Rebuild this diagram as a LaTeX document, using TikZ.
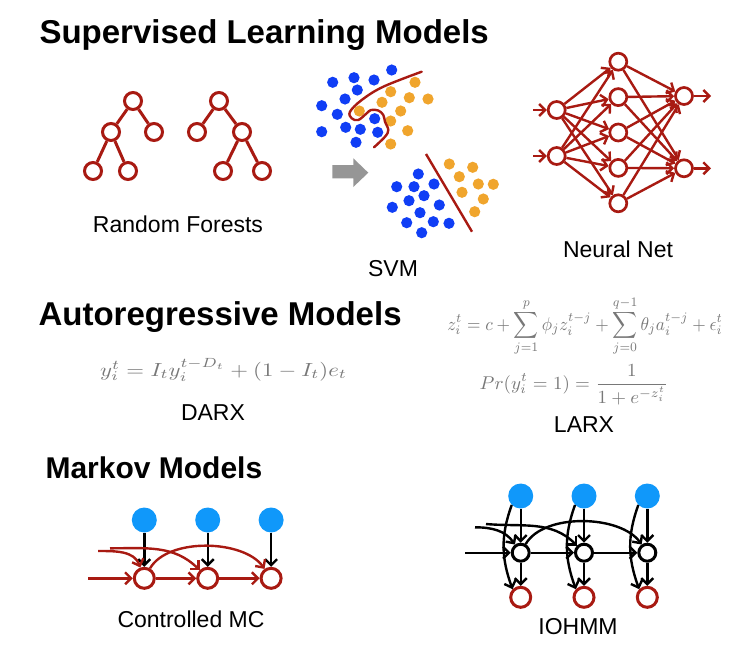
\documentclass[tikz,border=0pt]{standalone}
\usepackage{fontspec}
\setmainfont{Liberation Sans}
\usepackage{graphicx}
\usetikzlibrary{arrows.meta,positioning}

\definecolor{modelred}{RGB}{168,26,18}
\definecolor{dotblue}{RGB}{16,62,245}
\definecolor{dotorange}{RGB}{240,165,45}
\definecolor{inputblue}{RGB}{16,152,250}
\definecolor{eqgray}{RGB}{120,120,120}
\definecolor{arrowgray}{RGB}{150,150,150}

\tikzset{
  treenode/.style={draw=modelred,circle,line width=3pt,minimum size=17pt,inner sep=0pt},
  netnode/.style={draw=modelred,circle,line width=2.7pt,minimum size=17pt,inner sep=0pt},
  inputnode/.style={fill=inputblue,circle,minimum size=25pt,inner sep=0pt},
  statenode/.style={draw=modelred,circle,line width=3pt,minimum size=20pt,inner sep=0pt},
  hiddennode/.style={draw=black,circle,line width=3pt,minimum size=17pt,inner sep=0pt},
  title/.style={anchor=base west,font=\fontsize{33}{40}\selectfont\bfseries},
  caption/.style={anchor=base,font=\fontsize{23}{28}\selectfont},
  equation/.style={anchor=base,text=eqgray,inner sep=0pt},
  treeedge/.style={draw=modelred,line width=3pt},
  redline/.style={draw=modelred,line width=2.4pt},
  blackline/.style={draw=black,line width=2.4pt},
}

\begin{document}
\begin{tikzpicture}[x=1pt,y=-1pt,on grid,>={Straight Barb[length=6pt,width=12pt]}]
\useasboundingbox (0,0) rectangle (746,654);

\node[title] (suptitle) at (36,43) {Supervised Learning Models};
\node[title] (artitle) at (35,325) {Autoregressive Models};
\node[title,font=\fontsize{30}{36}\selectfont\bfseries] (mktitle) at (42,478) {Markov Models};

\node[treenode] (tree1) at (133,101) {};
\node[treenode] (tree1l) at (111,132) {};
\node[treenode] (tree1r) at (154,132) {};
\node[treenode] (tree1ll) at (93,171) {};
\node[treenode] (tree1lr) at (128,171) {};
\node[treenode] (tree2) at (219,101) {};
\node[treenode] (tree2l) at (197,132) {};
\node[treenode] (tree2r) at (242,132) {};
\node[treenode] (tree2rl) at (223,171) {};
\node[treenode] (tree2rr) at (262,171) {};
\draw[treeedge] (tree1) -- (tree1l);
\draw[treeedge] (tree1) -- (tree1r);
\draw[treeedge] (tree1l) -- (tree1ll);
\draw[treeedge] (tree1l) -- (tree1lr);
\draw[treeedge] (tree2) -- (tree2l);
\draw[treeedge] (tree2) -- (tree2r);
\draw[treeedge] (tree2r) -- (tree2rl);
\draw[treeedge] (tree2r) -- (tree2rr);
\node[caption] (rflabel) at (178,232) {Random Forests};

\foreach \x/\y in {391.7/70,332.7/82.3,354/77.7,374/80,357.3/90,345/99,321.7/105.7,337.3/114.3,374.7/118.7,345.7/127.3,360.3/129.3,377.7/132.3,321.7/131.7,356/142.3,
  418.3/174,396.7/186.7,414/186.7,434/184,424/195.7,409/200.7,439.3/205,392.3/207.3,420/212.7,406.7/222.7,433.3/221.7,449/223.3,421.7/232.7}
  \fill[dotblue] (\x,\y) circle[radius=5.6];
\foreach \x/\y in {415/82.3,390.7/91.7,409.3/97.7,428/99,382/102.3,359.3/111,400.7/111,390.7/121,407.7/130.7,390.7/144,
  449.3/164,472.7/167.3,459.3/176.7,478.3/184,493.3/184.3,462/192.3,483.3/199,474.7/211.7}
  \fill[dotorange] (\x,\y) circle[radius=5.6];
\draw[redline,line cap=round] plot[smooth,tension=0.6] coordinates {(421.7,71.7) (383.3,86.7) (361.7,100) (350,111.7) (351.7,118.3) (358.3,120) (366.7,113.3) (371,110) (378.3,110.5) (383.3,115) (385,121.7) (388.3,130) (385,136.7) (374,147.3)};
\draw[redline] (426,154) -- (472,231.7);
\fill[arrowgray] (332.3,165) -- (353.3,165) -- (353.3,158.3) -- (368.3,172.7) -- (353.3,187) -- (353.3,178.3) -- (332.3,178.3) -- cycle;
\node[caption] (svmlabel) at (393,276) {SVM};

\node[netnode] (in1) at (556.7,110) {};
\node[netnode] (in2) at (556.7,156) {};
\foreach \h/\y in {1/61.7,2/97.1,3/132.5,4/167.9,5/203.3}
  \node[netnode] (hid\h) at (618.3,\y) {};
\node[netnode] (out1) at (684,96) {};
\node[netnode] (out2) at (684,168.3) {};
\coordinate (netin1) at (533,110);
\coordinate (netin2) at (533,156);
\coordinate (netout1) at (711,96);
\coordinate (netout2) at (711,168.3);
\foreach \i in {1,2} {
  \draw[redline,->] (netin\i) -- (in\i);
  \draw[redline,->] (out\i) -- (netout\i);
  \foreach \h in {1,...,5} {
    \draw[redline,->] (in\i) -- (hid\h);
    \draw[redline,->] (hid\h) -- (out\i);
  }
}
\node[caption] (nnlabel) at (618,257) {Neural Net};

\node[equation] (darxeq) at (223.5,376) {\scalebox{2.28}[1.9]{$y_i^t = I_t y_i^{t-D_t} + (1-I_t)e_t$}};
\node[caption] (darxlabel) at (213,420) {DARX};
\node[equation] (larxeq) at (585,330) {\scalebox{1.73}[1.85]{$\displaystyle z_i^t = c + \sum_{j=1}^{p} \phi_j z_i^{t-j} + \sum_{j=0}^{q-1} \theta_j a_i^{t-j} + \epsilon_i^t$}};
\node[equation] (larxprob) at (574,389) {\scalebox{1.9}[1.85]{$\displaystyle Pr(y_i^t = 1) = \frac{1}{1+e^{-z_i^t}}$}};
\node[caption] (larxlabel) at (584,432) {LARX};

\node[statenode] (mc1) at (144.3,578.3) {};
\node[statenode] (mc2) [right=63.4pt of mc1] {};
\node[statenode] (mc3) [right=63.4pt of mc2] {};
\node[inputnode] (u1) [above=58.3pt of mc1] {};
\node[inputnode] (u2) [above=58.3pt of mc2] {};
\node[inputnode] (u3) [above=58.3pt of mc3] {};
\coordinate (mcin) at (88,578.3);
\coordinate (mcskip1) at (98,551);
\coordinate (mcskip2) at (110,548.3);
\foreach \i in {1,2,3}
  \draw[blackline,->] (u\i) -- (mc\i);
\draw[redline,->] (mcin) -- (mc1);
\draw[redline,->] (mc1) -- (mc2);
\draw[redline,->] (mc2) -- (mc3);
\draw[redline,->] (mcskip1) to[out=0,in=110] (mc1);
\draw[redline,->] (mcskip2) to[out=0,in=135] (mc2);
\draw[redline,->] (mc1) to[out=60,in=125,looseness=0.8] (mc3);
\node[caption] (mclabel) at (191,627) {Controlled MC};

\node[hiddennode] (s1) at (520.7,552.7) {};
\node[hiddennode] (s2) [right=63.3pt of s1] {};
\node[hiddennode] (s3) [right=63.3pt of s2] {};
\node[inputnode] (x1) [above=56.7pt of s1] {};
\node[inputnode] (x2) [above=56.7pt of s2] {};
\node[inputnode] (x3) [above=56.7pt of s3] {};
\node[statenode] (o1) [below=44.6pt of s1] {};
\node[statenode] (o2) [below=44.6pt of s2] {};
\node[statenode] (o3) [below=44.6pt of s3] {};
\coordinate (ioin) at (465,552.7);
\coordinate (ioskip1) at (475,527.3);
\coordinate (ioskip2) at (486,524);
\foreach \i in {1,2,3} {
  \draw[blackline,->] (x\i) -- (s\i);
  \draw[blackline,->] (s\i) -- (o\i);
  \draw[blackline,->] (x\i.225) to[out=250,in=110] (o\i.135);
}
\draw[blackline,->] (ioin) -- (s1);
\draw[blackline,->] (s1) -- (s2);
\draw[blackline,->] (s2) -- (s3);
\draw[blackline,->] (ioskip1) to[out=0,in=125] (s1);
\draw[blackline,->] (ioskip2) to[out=-5,in=135] (s2);
\draw[blackline,->] (s1) to[out=60,in=125,looseness=0.8] (s3);
\node[caption] (iolabel) at (578,634) {IOHMM};
\end{tikzpicture}
\end{document}
